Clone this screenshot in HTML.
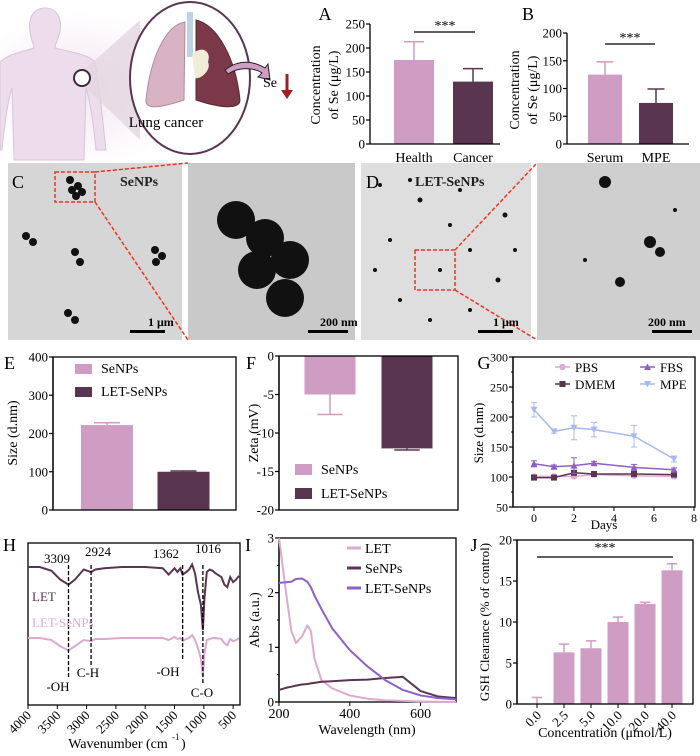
<!DOCTYPE html>
<html><head><meta charset="utf-8"><style>
html,body{margin:0;padding:0;background:#fff;}
svg{display:block;font-family:"Liberation Serif",serif;}
</style></head><body>
<svg id="fig" width="700" height="756" viewBox="0 0 700 756" xmlns="http://www.w3.org/2000/svg">
<defs>
<radialGradient id="glow" cx="0.5" cy="0.5" r="0.5"><stop offset="0" stop-color="#f3e6f1"/><stop offset="1" stop-color="#ffffff"/></radialGradient>
</defs>
<g>
<ellipse cx="80" cy="90" rx="110" ry="80" fill="url(#glow)"/>
<path d="M45 8 C58 8 62 20 60 32 C58 40 55 44 55 48 C70 52 88 54 95 62 C100 90 102 115 106 150 L96 150 C93 120 90 100 86 88 L84 160 L14 160 L12 88 C8 100 5 120 2 150 L0 150 L0 62 C8 54 22 52 34 48 C34 44 31 40 30 32 C28 20 32 8 45 8 Z" fill="#ecdcec" stroke="#d9c3da" stroke-width="1"/>
<polygon points="84,70 140,20 140,140 84,86" fill="#e3d6e0" opacity="0.8"/>
<circle cx="82" cy="78" r="8" fill="#fff" stroke="#3d2a38" stroke-width="2"/>
<ellipse cx="190" cy="78" rx="60" ry="76" fill="#fff" stroke="#5a3550" stroke-width="2"/>
<path d="M185 22 C165 25 150 60 146 100 C145 110 160 108 184 100 Z" fill="#d7b3c4" stroke="#b58aa0"/>
<path d="M196 20 C218 25 236 60 240 100 C240 110 220 108 196 100 Z" fill="#7b3848" stroke="#5a2535"/>
<rect x="187" y="12" width="6" height="45" fill="#bcd3ea"/>
<path d="M192 55 C200 45 212 50 208 62 C212 70 200 80 195 78 Z" fill="#f1ecd8"/>
<path d="M225 70 C240 58 255 62 265 68 L268 64 L270 80 L258 77 L262 73 C255 68 240 66 228 74 Z" fill="#cf9cc3" stroke="#222" stroke-width="1"/>
<text x="166" y="127" font-size="15" text-anchor="middle">Lung cancer</text>
<text x="263" y="87" font-size="14">Se</text>
<line x1="287" y1="74" x2="287" y2="92" stroke="#a51e22" stroke-width="3"/>
<polygon points="281,90 293,90 287,99" fill="#a51e22"/>
</g>
<g>
<rect x="8" y="163" width="174" height="177" fill="#d6d6d6"/>
<rect x="188" y="163" width="167" height="177" fill="#c9c9c9"/>
<rect x="361" y="163" width="170" height="177" fill="#dedede"/>
<rect x="537" y="163" width="163" height="177" fill="#cfcfcf"/>
<g fill="#111">
<circle cx="70" cy="180" r="4"/><circle cx="78" cy="186" r="4"/><circle cx="72" cy="190" r="4"/><circle cx="82" cy="192" r="4"/><circle cx="76" cy="196" r="4"/>
<circle cx="26" cy="236" r="4"/><circle cx="33" cy="242" r="4"/><circle cx="75" cy="252" r="4"/><circle cx="80" cy="262" r="4"/>
<circle cx="155" cy="250" r="4"/><circle cx="162" cy="256" r="4"/><circle cx="156" cy="262" r="4"/><circle cx="68" cy="313" r="4"/><circle cx="75" cy="320" r="4"/>
<circle cx="236" cy="220" r="19"/><circle cx="265" cy="238" r="19"/><circle cx="290" cy="260" r="19"/><circle cx="257" cy="270" r="19"/><circle cx="285" cy="298" r="19"/>
<circle cx="380" cy="185" r="2"/><circle cx="420" cy="200" r="2.5"/><circle cx="460" cy="190" r="2"/><circle cx="505" cy="215" r="2.5"/><circle cx="390" cy="240" r="2"/><circle cx="440" cy="270" r="2"/><circle cx="470" cy="250" r="2"/><circle cx="498" cy="280" r="2.5"/><circle cx="400" cy="300" r="2"/><circle cx="430" cy="320" r="2"/><circle cx="470" cy="310" r="2"/><circle cx="375" cy="270" r="2"/><circle cx="515" cy="250" r="2"/><circle cx="450" cy="225" r="2"/><circle cx="410" cy="180" r="2"/>
<circle cx="605" cy="182" r="6"/><circle cx="650" cy="242" r="6"/><circle cx="660" cy="252" r="5"/><circle cx="620" cy="282" r="5"/><circle cx="585" cy="260" r="2"/><circle cx="675" cy="210" r="2"/>
</g>
<rect x="55" y="172" width="40" height="30" fill="none" stroke="#e32" stroke-width="1.5" stroke-dasharray="4 2"/>
<line x1="95" y1="172" x2="188" y2="163" stroke="#e32" stroke-width="1.5" stroke-dasharray="4 2"/>
<line x1="95" y1="202" x2="188" y2="340" stroke="#e32" stroke-width="1.5" stroke-dasharray="4 2"/>
<rect x="415" y="250" width="40" height="40" fill="none" stroke="#e32" stroke-width="1.5" stroke-dasharray="4 2"/>
<line x1="455" y1="250" x2="537" y2="163" stroke="#e32" stroke-width="1.5" stroke-dasharray="4 2"/>
<line x1="455" y1="290" x2="537" y2="340" stroke="#e32" stroke-width="1.5" stroke-dasharray="4 2"/>
<text x="12" y="188" font-size="18">C</text>
<text x="120" y="186" font-size="14" font-weight="bold" fill="#222">SeNPs</text>
<text x="366" y="188" font-size="18">D</text>
<text x="415" y="186" font-size="14" font-weight="bold" fill="#222">LET-SeNPs</text>
<text x="148" y="326" font-size="12" font-weight="bold">1 μm</text><rect x="130" y="330" width="35" height="3" fill="#000"/>
<text x="320" y="326" font-size="12" font-weight="bold">200 nm</text><rect x="308" y="330" width="40" height="3" fill="#000"/>
<text x="493" y="326" font-size="12" font-weight="bold">1 μm</text><rect x="478" y="330" width="35" height="3" fill="#000"/>
<text x="648" y="326" font-size="12" font-weight="bold">200 nm</text><rect x="652" y="330" width="40" height="3" fill="#000"/>
</g>
<g id="charts"></g>
</svg>
<script>
const aCats=['Health','Cancer']; const aVals=[175,130]; const aErr=[213,157];
const bCats=['Serum','MPE']; const bVals=[125,74]; const bErr=[148,99];
const eCats=['SeNPs','LET-SeNPs']; const eVals=[222,100]; const eErr=[228,102];
const fCats=['SeNPs','LET-SeNPs']; const fVals=[-5,-12]; const fErr=[-7.6,-12.2];
const gDays=[0,1,2,3,5,7];
const gPBS=[101,101,101,104,102,101]; const gPBSerr=[3,2,3,2,3,3];
const gDMEM=[99,99,107,105,105,104]; const gDMEMerr=[2,2,3,3,2,3];
const gFBS=[122,117,119,123,116,112]; const gFBSerr=[5,3,13,3,5,3];
const gMPE=[212,176,182,179,168,130]; const gMPEerr=[12,3,20,12,18,5];
const irWave=[4000,3800,3600,3450,3309,3200,3050,2924,2850,2700,2400,2000,1700,1600,1500,1450,1400,1362,1300,1250,1200,1150,1100,1050,1016,990,950,900,850,800,700,650,600,550,500,450,400];
const irLET=[100,100,97,90,86,90,98,96,98,99,100,100,99,94,99,96,99,94,96,98,102,95,80,70,50,75,96,98,97,95,92,86,84,92,88,90,93];
const irLETSe=[100,100,98,92,88,92,98,97,99,99,100,100,100,98,101,99,100,97,99,100,103,98,90,80,62,85,98,99,100,100,99,95,93,99,97,98,100];
const irPeaks=[3309,2924,1362,1016];
const uvWave=[200,220,235,248,265,280,290,300,320,350,400,450,500,550,600,650,700];
const uvLET=[3.0,2.0,1.3,1.08,1.2,1.4,1.3,0.8,0.4,0.25,0.12,0.06,0.03,0.02,0.01,0.005,0];
const uvLETSe=[2.18,2.19,2.2,2.25,2.26,2.2,2.1,1.95,1.7,1.35,0.95,0.65,0.4,0.22,0.12,0.07,0.05];
const uvSe=[0.22,0.26,0.28,0.3,0.32,0.33,0.34,0.35,0.37,0.38,0.4,0.41,0.44,0.46,0.2,0.1,0.07];
const jCats=['0.0','2.5','5.0','10.0','20.0','40.0']; const jVals=[0,6.3,6.8,10,12.2,16.3]; const jErr=[0.8,7.3,7.7,10.6,12.4,17.1];

const PINK='#cf9cc3', DARK='#5a3550', PURP='#8e5fc6', BLUE='#a9b9ef';
const NS='http://www.w3.org/2000/svg';
const root=document.getElementById('charts');
function mk(tag,attrs,parent){const e=document.createElementNS(NS,tag);for(const k in attrs)e.setAttribute(k,attrs[k]);(parent||root).appendChild(e);return e;}
function lin(d0,d1,r0,r1){return v=>r0+(v-d0)*(r1-r0)/(d1-d0);}
function txt(s,x,y,size,anchor,parent,rot){const t=mk('text',{x:x,y:y,'font-size':size,'text-anchor':anchor||'start'},parent);if(rot)t.setAttribute('transform','rotate('+rot+' '+x+' '+y+')');t.textContent=s;return t;}
function yAxis(g,x,y,ticks,labels,len,fs){
  const ax=mk('line',{x1:x,y1:y(ticks[0]),x2:x,y2:y(ticks[ticks.length-1]),stroke:'#000','stroke-width':1.3},g);
  
  
  ticks.forEach((v,i)=>{mk('line',{x1:x-len,y1:y(v),x2:x,y2:y(v),stroke:'#000','stroke-width':1.2},g);
    const t=txt(labels[i],x-len-1,y(v)+4.5,fs||13,'end',g);
    
    });
}
function panel(name){const g=mk('g',{});return g;}
function bars(g,cats,vals,errs,y,c0,step,w,colors,base){
  cats.forEach((c,i)=>{const cx=c0+i*step;const y0=y(base),y1=y(vals[i]);
    const r=mk('rect',{x:cx-w/2,y:Math.min(y0,y1),width:w,height:Math.abs(y1-y0),fill:colors[i%colors.length]},g);
    
    
    const col=colors[i%colors.length];
    mk('line',{x1:cx,y1:y1,x2:cx,y2:y(errs[i]),stroke:col,'stroke-width':1.5},g);
    mk('line',{x1:cx-w/4,y1:y(errs[i]),x2:cx+w/4,y2:y(errs[i]),stroke:col,'stroke-width':1.5},g);});
}
function frame(g,x0,y0,x1,y1){const f=mk('rect',{x:x0,y:y0,width:x1-x0,height:y1-y0,fill:'none',stroke:'#000','stroke-width':1.3},g);}

(function(){const g=panel('panel-a-chart');const y=lin(0,250,144,24);
 let t=txt('A',325,20,18,'middle',g);
 bars(g,aCats,aVals,aErr,y,414,59,40,[PINK,DARK],0);
 yAxis(g,370,y,[0,50,100,150,200,250],['0','50','100','150','200','250'],4);
 mk('line',{x1:370,y1:144,x2:500,y2:144,stroke:'#000','stroke-width':1.3},g);
 aCats.forEach((c,i)=>{const l=txt(c,414+i*59,162,14,'middle',g);});
 mk('line',{x1:414,y1:32,x2:475,y2:32,stroke:'#000','stroke-width':1.3},g);
 t=txt('***',445,30,14,'middle',g);
 t=txt('Concentration',320,85,14,'middle',g,-90);
 t=txt('of Se (μg/L)',338,85,14,'middle',g,-90);
})();
(function(){const g=panel('panel-b-chart');const y=lin(0,200,144,33);
 let t=txt('B',528,20,18,'middle',g);
 bars(g,bCats,bVals,bErr,y,605,51,34,[PINK,DARK],0);
 yAxis(g,567,y,[0,50,100,150,200],['0','50','100','150','200'],4);
 mk('line',{x1:567,y1:144,x2:689,y2:144,stroke:'#000','stroke-width':1.3},g);
 bCats.forEach((c,i)=>{const l=txt(c,605+i*51,162,14,'middle',g);});
 mk('line',{x1:605,y1:44,x2:655,y2:44,stroke:'#000','stroke-width':1.3},g);
 t=txt('***',630,42,14,'middle',g);
 t=txt('Concentration',519,90,14,'middle',g,-90);
 t=txt('of Se (μg/L)',537,90,14,'middle',g,-90);
})();
(function(){const g=panel('panel-e-chart');const y=lin(0,400,510,357);
 let t=txt('E',4,369,18,'start',g);
 bars(g,eCats,eVals,eErr,y,107,76.5,52,[PINK,DARK],0);
 frame(g,53,357,236,510);
 yAxis(g,53,y,[0,100,200,300,400],['0','100','200','300','400'],4);
 t=txt('Size (d.nm)',17,433,14,'middle',g,-90);
 eCats.forEach((c,i)=>{const r=mk('rect',{x:75,y:364+i*23,width:17,height:10,fill:[PINK,DARK][i]},g);
  const l=txt(c,101,373+i*23,14,'start',g);});
})();
(function(){const g=panel('panel-f-chart');const y=lin(0,-20,356,510);
 let t=txt('F',251,369,18,'middle',g);
 bars(g,fCats,fVals,fErr,y,330,77,51,[PINK,DARK],0);
 frame(g,279,356,458,510);
 yAxis(g,279,y,[0,-5,-10,-15,-20],['0','-5','-10','-15','-20'],4);
 t=txt('Zeta (mV)',258,433,14,'middle',g,-90);
 fCats.forEach((c,i)=>{const r=mk('rect',{x:295,y:464+i*24,width:17,height:11,fill:[PINK,DARK][i]},g);
  const l=txt(c,321,474+i*24,14,'start',g);});
})();
(function(){const g=panel('panel-g-chart');const x=lin(0,8,534,694),y=lin(50,300,507,357);
 let t=txt('G',484,369,18,'middle',g);
 frame(g,513,357,695,507);
 yAxis(g,513,y,[50,100,150,200,250,300],['50','100','150','200','250','300'],4,12);
 [75,125,175,225,275].forEach(v=>mk('line',{x1:511,y1:y(v),x2:513,y2:y(v),stroke:'#000'},g));
 [0,2,4,6,8].forEach(v=>{mk('line',{x1:x(v),y1:507,x2:x(v),y2:511,stroke:'#000'},g);const l=txt(String(v),x(v),522,12,'middle',g);});
 t=txt('Days',604,529,13,'middle',g);
 t=txt('Size (d.nm)',483,433,13,'middle',g,-90);
 const series=[['PBS',gPBS,gPBSerr,'#e0a9d6','circle'],['DMEM',gDMEM,gDMEMerr,DARK,'square'],['FBS',gFBS,gFBSerr,PURP,'tri'],['MPE',gMPE,gMPEerr,BLUE,'tridown']];
 function marker(m,cx,cy,col){if(m==='circle')return mk('circle',{cx:cx,cy:cy,r:3.2,fill:col},g);if(m==='square')return mk('rect',{x:cx-3,y:cy-3,width:6,height:6,fill:col},g);
  if(m==='tri')return mk('polygon',{points:(cx-3.5)+','+(cy+3)+' '+(cx+3.5)+','+(cy+3)+' '+cx+','+(cy-3.5),fill:col},g);
  return mk('polygon',{points:(cx-3.5)+','+(cy-3)+' '+(cx+3.5)+','+(cy-3)+' '+cx+','+(cy+3.5),fill:col},g);}
 series.forEach(([nm,vals,err,col,m])=>{
  const p=mk('polyline',{points:gDays.map((d,i)=>x(d)+','+y(vals[i])).join(' '),fill:'none',stroke:col,'stroke-width':1.5},g);
  
  
  gDays.forEach((d,i)=>{mk('line',{x1:x(d),y1:y(vals[i]-err[i]),x2:x(d),y2:y(vals[i]+err[i]),stroke:col,'stroke-width':1},g);
   mk('line',{x1:x(d)-3,y1:y(vals[i]+err[i]),x2:x(d)+3,y2:y(vals[i]+err[i]),stroke:col,'stroke-width':1},g);
   mk('line',{x1:x(d)-3,y1:y(vals[i]-err[i]),x2:x(d)+3,y2:y(vals[i]-err[i]),stroke:col,'stroke-width':1},g);
   const mm=marker(m,x(d),y(vals[i]),col);});});
 const legPos=[[555,371],[555,388],[640,371],[640,388]];
 series.forEach(([nm,vals,err,col,m],i)=>{const [lx,ly]=legPos[i];mk('line',{x1:lx,y1:ly-4,x2:lx+15,y2:ly-4,stroke:col,'stroke-width':1.5},g);marker(m,lx+7.5,ly-4,col);
  const l=txt(nm,lx+20,ly+1,13,'start',g);});
})();
(function(){const g=panel('panel-h-chart');const x=lin(4000,400,28,239);const y=lin(0,100,693,567);
 let t=txt('H',3,551,18,'start',g);
 frame(g,28,543,240,705);
 [4000,3500,3000,2500,2000,1500,1000,500].forEach(v=>{mk('line',{x1:x(v),y1:705,x2:x(v),y2:709,stroke:'#000'},g);
  const l=txt(String(v),x(v)+4,716,13,'end',g,-45);});
 t=txt('Wavenumber (cm',118,748,14,'middle',g);
 t=txt('-1',172,740,9,'start',g);t=txt(')',181,748,14,'start',g);
 const ln=mk('polyline',{points:irWave.map((w,i)=>x(w)+','+y(irLET[i])).join(' '),fill:'none',stroke:DARK,'stroke-width':2},g);
 
 
 const ly=lin(0,100,741,638);
 const ln2=mk('polyline',{points:irWave.map((w,i)=>x(w)+','+ly(irLETSe[i])).join(' '),fill:'none',stroke:'#dca9d0','stroke-width':2},g);
 
 
 const ends=[690,678,672,695];
 irPeaks.forEach((p,i)=>{const dl=mk('line',{x1:x(p),y1:565,x2:x(p),y2:ends[i]-12,stroke:'#000','stroke-width':1.3,'stroke-dasharray':'4 2'},g);});
 [['3309',57,563],['2924',98,556],['1362',166,558],['1016',208,553]].forEach(a=>{const l=txt(a[0],a[1],a[2],13,'middle',g);});
 [['-OH',58,691],['C-H',88,677],['-OH',168,676],['C-O',202,697]].forEach(a=>{const l=txt(a[0],a[1],a[2],13,'middle',g);});
 t=txt('LET',32,601,13,'start',g);t.setAttribute('fill',DARK);
 t=txt('LET-SeNPs',32,627,13,'start',g);t.setAttribute('fill','#dca9d0');
})();
(function(){const g=panel('panel-i-chart');const x=lin(200,700,279,456),y=lin(0,3,702,538);
 let t=txt('I',248,551,18,'middle',g);
 frame(g,279,538,456,702);
 yAxis(g,279,y,[0,1,2,3],['0','1','2','3'],4);
 [0.5,1.5,2.5].forEach(v=>mk('line',{x1:277,y1:y(v),x2:279,y2:y(v),stroke:'#000'},g));
 [200,400,600].forEach(v=>{mk('line',{x1:x(v),y1:702,x2:x(v),y2:706,stroke:'#000'},g);const l=txt(String(v),x(v),718,14,'middle',g);});
 t=txt('Wavelength (nm)',367,734,14,'middle',g);
 t=txt('Abs (a.u.)',259,620,14,'middle',g,-90);
 const ser=[['LET',uvLET,'#dca9d0'],['SeNPs',uvSe,DARK],['LET-SeNPs',uvLETSe,PURP]];
 ser.forEach(([nm,vals,col],i)=>{const p=mk('polyline',{points:uvWave.map((w,k)=>x(w)+','+y(vals[k])).join(' '),fill:'none',stroke:col,'stroke-width':2,'stroke-linejoin':'round'},g);
  
  
  mk('line',{x1:347,y1:548+i*20,x2:361,y2:548+i*20,stroke:col,'stroke-width':3},g);
  const l=txt(nm,365,553+i*20,14,'start',g);});
})();
(function(){const g=panel('panel-j-chart');const y=lin(0,20,704,540);
 let t=txt('J',474,551,18,'middle',g);
 bars(g,jCats,jVals,jErr,y,537,27,21,[PINK],0);
 frame(g,517,540,693,704);
 yAxis(g,517,y,[0,5,10,15,20],['0','5','10','15','20'],4);
 jCats.forEach((c,i)=>{const cx=537+i*27;mk('line',{x1:cx,y1:704,x2:cx,y2:708,stroke:'#000'},g);const l=txt(c,cx+5,716,13,'end',g,-45);});
 mk('line',{x1:537,y1:557,x2:673,y2:557,stroke:'#000','stroke-width':1.3},g);
 t=txt('***',605,552,14,'middle',g);
 t=txt('Concentration (μmol/L)',605,737,14,'middle',g);
 t=txt('GSH Clearance (% of control)',489,622,13,'middle',g,-90);
})();
</script>
</body></html>
